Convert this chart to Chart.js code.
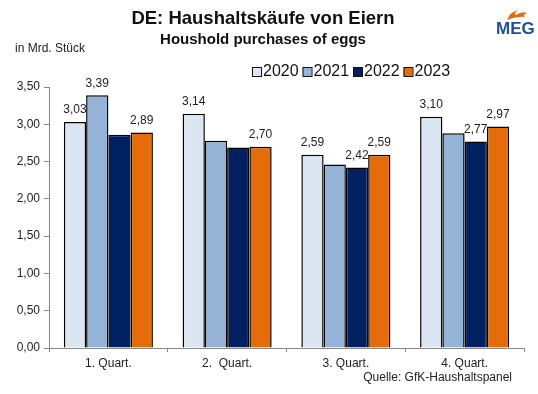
<!DOCTYPE html>
<html>
<head>
<meta charset="utf-8">
<script src="https://cdn.jsdelivr.net/npm/chart.js@4"></script>
<style>
  html, body { margin: 0; padding: 0; background: #fff; }
  #wrap { width: 538px; height: 394px; }
</style>
</head>
<body>
<div id="wrap"><canvas id="eggChart"></canvas></div>
<script>
const quarters = ["1. Quart.", "2.  Quart.", "3. Quart.", "4. Quart."];
const years = ["2020", "2021", "2022", "2023"];
const v2020 = [3.03, 3.14, 2.59, 3.10];
const v2021 = [3.39, 2.78, 2.46, 2.88];
const v2022 = [2.86, 2.69, 2.42, 2.77];
const v2023 = [2.89, 2.70, 2.59, 2.97];
// which value labels are printed in the original
const shown2020 = [true, true, true, true];
const shown2021 = [true, false, false, false];
const shown2022 = [false, false, true, true];
const shown2023 = [true, true, true, true];
const yTicks = [0, 0.5, 1, 1.5, 2, 2.5, 3, 3.5];

const colors = ["#dce6f2", "#95b3d7", "#002060", "#e46c0a"];
const FONT = "'Liberation Sans', Arial, sans-serif";

const fmt = (v) => v.toFixed(2).replace(".", ",");

const ctx = document.getElementById("eggChart");

const decorPlugin = {
  id: "decor",
  afterDatasetsDraw(chart) {
    const c = chart.ctx;
    c.save();
    // value labels
    c.font = "12px " + FONT;
    c.fillStyle = "#222";
    c.textAlign = "center";
    c.textBaseline = "bottom";
    chart.data.datasets.forEach((ds, i) => {
      const meta = chart.getDatasetMeta(i);
      meta.data.forEach((bar, j) => {
        if (!ds.shown[j]) return;
        c.fillText(fmt(ds.data[j]), bar.x, bar.y - 6);
      });
    });
    c.restore();
  },
  afterDraw(chart) {
    const c = chart.ctx;
    c.save();
    // titles
    c.fillStyle = "#111";
    c.textAlign = "center";
    c.textBaseline = "middle";
    c.font = "bold 18.5px " + FONT;
    c.fillText("DE: Haushaltskäufe von Eiern", 263, 19);
    c.font = "bold 15px " + FONT;
    c.fillText("Houshold purchases of eggs", 263, 40);

    c.textAlign = "left";
    c.font = "12px " + FONT;
    c.fillStyle = "#222";
    c.fillText("in Mrd. Stück", 15, 49);

    c.textAlign = "right";
    c.fillText("Quelle: GfK-Haushaltspanel", 512, 378);

    // legend
    c.textAlign = "left";
    c.font = "16px " + FONT;
    chart.data.datasets.forEach((ds, i) => {
      const x = 252 + i * 50.5;
      c.fillStyle = ds.backgroundColor;
      c.fillRect(x, 67, 9, 9);
      c.strokeStyle = "#111";
      c.lineWidth = 1;
      c.strokeRect(x + 0.5, 67.5, 9, 9);
      c.fillStyle = "#111";
      c.fillText(ds.label, x + 11, 72);
    });

    // MEG logo
    c.fillStyle = "#e46c0a";
    c.beginPath();
    c.moveTo(507, 20);
    c.quadraticCurveTo(510, 12, 518, 10);
    c.quadraticCurveTo(513, 14, 516, 15);
    c.quadraticCurveTo(522, 11, 527, 13);
    c.quadraticCurveTo(522, 15, 525, 17);
    c.quadraticCurveTo(518, 16, 507, 20);
    c.fill();
    c.fillStyle = "#1f4e9a";
    c.font = "bold 17px " + FONT;
    c.textAlign = "left";
    c.fillText("MEG", 496, 29);
    c.restore();
  },
};

new Chart(ctx, {
  type: "bar",
  data: {
    labels: quarters,
    datasets: [
      { label: years[0], data: v2020, shown: shown2020, backgroundColor: colors[0] },
      { label: years[1], data: v2021, shown: shown2021, backgroundColor: colors[1] },
      { label: years[2], data: v2022, shown: shown2022, backgroundColor: colors[2] },
      { label: years[3], data: v2023, shown: shown2023, backgroundColor: colors[3] },
    ].map((d) => ({ ...d, borderColor: "#000", borderWidth: 1.5, borderSkipped: "bottom" })),
  },
  options: {
    responsive: true,
    maintainAspectRatio: false,
    animation: false,
    layout: { padding: { top: 87, right: 14, bottom: 0, left: 0 } },
    plugins: {
      legend: { display: false },
      tooltip: { enabled: false },
    },
    datasets: {
      bar: { categoryPercentage: 0.75, barPercentage: 1 },
    },
    scales: {
      x: {
        grid: {
          offset: true,
          drawOnChartArea: false,
          drawTicks: true,
          tickLength: 4,
          color: "#888",
        },
        border: { color: "#888", width: 1 },
        ticks: { color: "#222", font: { family: FONT, size: 12 }, padding: 4 },
        afterFit(scale) { scale.height = 46; },
      },
      y: {
        min: 0,
        max: 3.5,
        afterBuildTicks(scale) { scale.ticks = yTicks.map((v) => ({ value: v })); },
        grid: {
          drawOnChartArea: false,
          drawTicks: true,
          tickLength: 5,
          color: "#888",
        },
        border: { color: "#888", width: 1 },
        ticks: {
          color: "#222",
          font: { family: FONT, size: 12 },
          padding: 4,
          callback: (v) => fmt(v),
        },
        afterFit(scale) { scale.width = 49; },
      },
    },
  },
  plugins: [decorPlugin],
});
</script>
</body>
</html>
